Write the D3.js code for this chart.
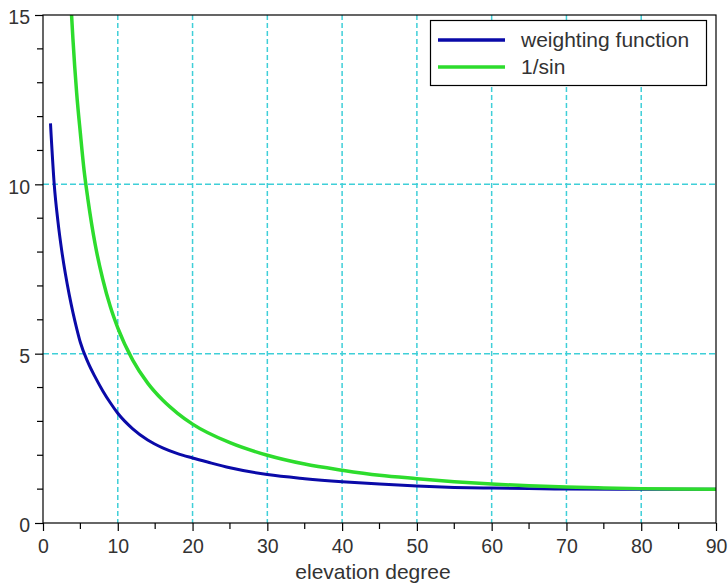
<!DOCTYPE html>
<html><head><meta charset="utf-8">
<script src="https://cdn.jsdelivr.net/npm/d3@7"></script>
<style>
html,body{margin:0;padding:0;background:#fff;}
svg{display:block;font-family:"Liberation Sans",Arial,sans-serif;}
</style></head>
<body>
<svg id="chart" width="728" height="584"></svg>
<script>
// Data
const seriesNames = ["weighting function", "1/sin"];
const weightElev = [1, 1.5, 2, 2.5, 3, 3.5, 4, 4.5, 5, 6, 7, 8, 9, 10, 12, 14, 16, 18, 20, 22, 25, 30, 35, 40, 45, 50, 55, 60, 65, 70, 78, 90];
const weightVals = [11.8, 10.0, 8.9, 8.05, 7.35, 6.75, 6.22, 5.75, 5.33, 4.75, 4.3, 3.9, 3.55, 3.24, 2.78, 2.45, 2.22, 2.05, 1.92, 1.8, 1.63, 1.43, 1.31, 1.22, 1.15, 1.09, 1.05, 1.03, 1.015, 1.005, 1.0, 1.0];
const sinElev = [3.82, 4, 4.5, 5, 5.5, 6, 7, 8, 9, 10, 12, 14, 16, 18, 20, 25, 30, 35, 40, 45, 50, 55, 60, 65, 70, 75, 80, 85, 90];
const sinVals = [15.0, 14.3, 12.7, 11.5, 10.4, 9.57, 8.2, 7.19, 6.39, 5.76, 4.81, 4.13, 3.63, 3.24, 2.92, 2.37, 2.0, 1.74, 1.56, 1.41, 1.31, 1.22, 1.15, 1.10, 1.06, 1.035, 1.015, 1.004, 1.0];
const xMajorTicks = [0, 10, 20, 30, 40, 50, 60, 70, 80, 90];
const xMinorTicks = [5, 15, 25, 35, 45, 55, 65, 75, 85];
const yMajorTicks = [0, 5, 10, 15];
const yMinorTicks = [1, 2, 3, 4, 6, 7, 8, 9, 11, 12, 13, 14];
const xLabel = "elevation degree";

const L = 43, R = 716, T = 15, B = 523;
const svg = d3.select("#chart");
const x = d3.scaleLinear().domain([0, 90]).range([L, R]);
const y = d3.scaleLinear().domain([0, 15]).range([B, T]);
const textColor = "#333";
const gridColor = "#3fcfd8";

// grid
const g = svg.append("g");
g.selectAll("line.vx").data(xMajorTicks.filter(d => d > 0 && d < 90)).join("line")
  .attr("x1", d => x(d)).attr("x2", d => x(d)).attr("y1", T).attr("y2", B)
  .attr("stroke", gridColor).attr("stroke-width", 1.5).attr("stroke-dasharray", "5,3");
g.selectAll("line.hy").data(yMajorTicks.filter(d => d > 0 && d < 15)).join("line")
  .attr("x1", L).attr("x2", R).attr("y1", d => y(d)).attr("y2", d => y(d))
  .attr("stroke", gridColor).attr("stroke-width", 1.5).attr("stroke-dasharray", "6,3");

// lines
const clip = svg.append("clipPath").attr("id", "clip").append("rect")
  .attr("x", L).attr("y", T).attr("width", R - L).attr("height", B - T);
const line = d3.line().x(d => x(d[0])).y(d => y(d[1])).curve(d3.curveMonotoneX);
const weightData = weightElev.map((e, i) => [e, weightVals[i]]);
const sinData = sinElev.map((e, i) => [e, sinVals[i]]);
svg.append("path").datum(weightData).attr("d", line).attr("fill", "none")
  .attr("stroke", "#0a0aa8").attr("stroke-width", 3).attr("clip-path", "url(#clip)");
svg.append("path").datum(sinData).attr("d", line).attr("fill", "none")
  .attr("stroke", "#2ddc2d").attr("stroke-width", 3.5).attr("clip-path", "url(#clip)");

// frame
svg.append("rect").attr("x", L).attr("y", T).attr("width", R - L).attr("height", B - T)
  .attr("fill", "none").attr("stroke", "#000").attr("stroke-width", 1.2);

// axes
const xAxis = d3.axisBottom(x).tickValues(xMajorTicks).tickSize(8).tickSizeOuter(0).tickPadding(6);
const xa = svg.append("g").attr("transform", `translate(0,${B})`).call(xAxis);
const yAxis = d3.axisLeft(y).tickValues(yMajorTicks).tickSize(8).tickSizeOuter(0).tickPadding(5);
const ya = svg.append("g").attr("transform", `translate(${L},0)`).call(yAxis);
[xa, ya].forEach(a => {
  a.select(".domain").remove();
  a.selectAll(".tick line").attr("stroke", "#000").attr("stroke-width", 1.2);
  a.selectAll(".tick text").attr("fill", textColor).attr("font-size", "19.5px")
    .attr("font-family", "Liberation Sans, Arial, sans-serif");
});
ya.selectAll(".tick text").attr("dy", "0.45em");
xa.selectAll(".tick text").attr("dy", "0.8em");
svg.append("g").selectAll("line").data(xMinorTicks).join("line")
  .attr("x1", d => x(d)).attr("x2", d => x(d)).attr("y1", B).attr("y2", B + 6)
  .attr("stroke", "#000").attr("stroke-width", 1.2);
svg.append("g").selectAll("line").data(yMinorTicks).join("line")
  .attr("x1", L - 6).attr("x2", L).attr("y1", d => y(d)).attr("y2", d => y(d))
  .attr("stroke", "#000").attr("stroke-width", 1.2);

// axis label
svg.append("text").attr("x", 373).attr("y", 579).attr("text-anchor", "middle")
  .attr("font-size", "21px").attr("fill", textColor).text(xLabel);

// legend
const lg = svg.append("g");
lg.append("rect").attr("x", 430.5).attr("y", 20.5).attr("width", 276).attr("height", 65)
  .attr("fill", "#fff").attr("stroke", "#000").attr("stroke-width", 1.2);
const legColors = ["#0a0aa8", "#2ddc2d"];
seriesNames.forEach((name, i) => {
  const yy = 40 + i * 27;
  lg.append("line").attr("x1", 438).attr("x2", 505).attr("y1", yy).attr("y2", yy)
    .attr("stroke", legColors[i]).attr("stroke-width", 3.5);
  lg.append("text").attr("x", 521).attr("y", yy + 7).attr("font-size", "21px")
    .attr("fill", textColor).text(name);
});
</script>
</body></html>
